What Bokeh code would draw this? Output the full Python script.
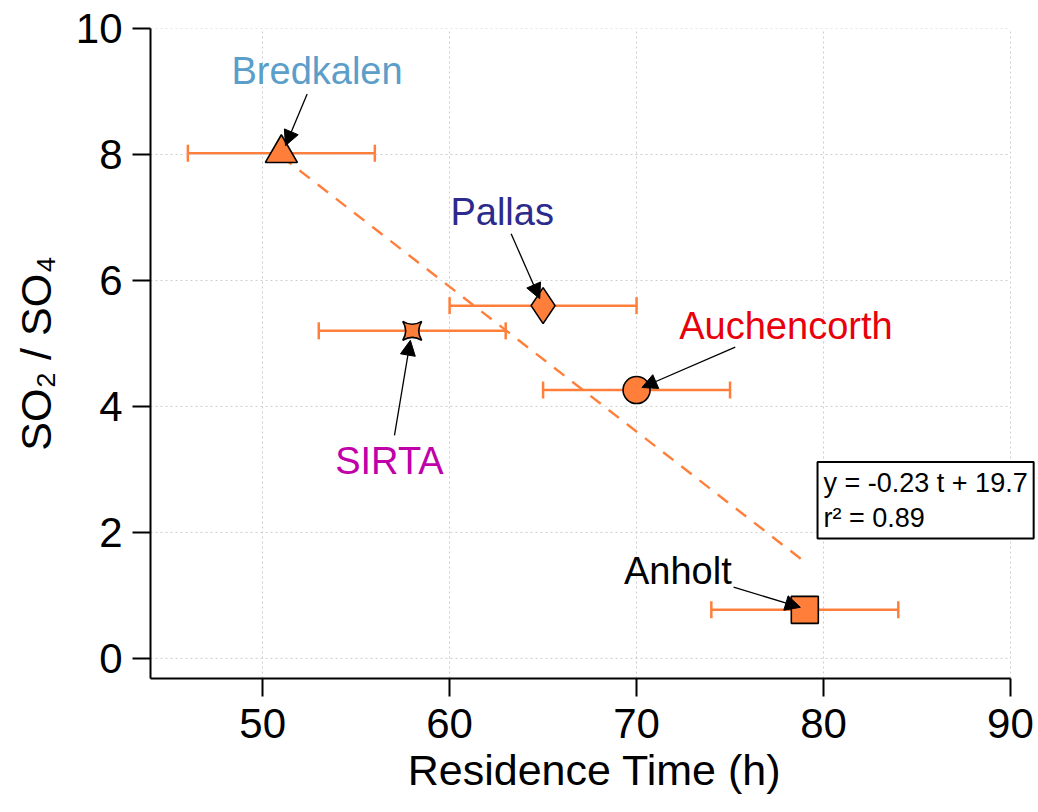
from bokeh.plotting import figure
from bokeh.models import Range1d, FixedTicker, Whisker, ColumnDataSource, Arrow, NormalHead, Label
from bokeh.embed import file_html
from bokeh.resources import INLINE

# ---- data ----
sites = ["Bredkalen", "Pallas", "SIRTA", "Auchencorth", "Anholt"]
res_time = [51, 65, 58, 70, 79]
ratio = [8.02, 5.60, 5.20, 4.26, 0.77]
res_err = [5, 5, 5, 5, 5]
markers = ["triangle", "diamond", "square_pin", "circle", "square"]
marker_sizes = [32, 36, 19, 27, 27]
label_colors = ["#5b9ec9", "#2c2a8c", "#c000a8", "#e8000b", "#000000"]
label_x = [52.91, 62.81, 56.78, 77.99, 72.21]
label_y = [9.33, 7.08, 3.14, 5.28, 1.39]
arrow_tail_x = [52.38, 63.29, 57.05, 75.28, 75.19]
arrow_tail_y = [8.96, 6.74, 3.54, 4.94, 1.13]
arrow_head_x = [51.22, 64.82, 57.90, 70.29, 78.76]
arrow_head_y = [8.14, 5.71, 5.05, 4.30, 0.81]
fit_slope = -0.23
fit_intercept = 19.7
fit_t = [51, 79]
fit_text = "y = -0.23 t + 19.7\nr\u00b2 = 0.89"
x_ticks = [50, 60, 70, 80, 90]
y_ticks = [0, 2, 4, 6, 8, 10]
x_min, x_max, x_view_max = 44, 90, 91.5
y_min, y_max = -0.32, 10

ORANGE = "#ff7f3a"
FONT = "Liberation Sans"
GRID = "#cccccc"

p = figure(width=1038, height=812, output_backend="svg", toolbar_location=None,
           x_range=Range1d(x_min, x_view_max), y_range=Range1d(y_min, y_max))
p.min_border_left = 150
p.min_border_right = 0
p.min_border_top = 28
p.min_border_bottom = 134
p.outline_line_color = None
p.background_fill_color = "white"
p.border_fill_color = "white"

for ax in (p.xaxis[0], p.yaxis[0]):
    ax.axis_line_width = 2
    ax.axis_line_color = "black"
    ax.major_tick_line_width = 2
    ax.major_tick_line_color = "black"
    ax.major_tick_out = 18
    ax.major_tick_in = 0
    ax.minor_tick_line_color = None
    ax.major_label_text_font = FONT
    ax.major_label_text_font_size = "42px"
    ax.major_label_text_color = "black"
    ax.axis_label_text_font = FONT
    ax.axis_label_text_font_size = "43px"
    ax.axis_label_text_font_style = "normal"
    ax.axis_label_text_color = "black"

p.xaxis.ticker = FixedTicker(ticks=x_ticks)
p.yaxis.ticker = FixedTicker(ticks=y_ticks)
p.xaxis.bounds = (x_min, x_max)
p.xaxis.axis_label = "Residence Time (h)"
p.yaxis.axis_label = "SO\u2082 / SO\u2084"
p.xaxis.major_label_standoff = 12
p.xaxis.axis_label_standoff = 5
p.yaxis.major_label_standoff = 10
p.yaxis.axis_label_standoff = 13

p.xgrid.grid_line_color = GRID
p.xgrid.grid_line_dash = "2 3"
p.xgrid.grid_line_width = 1
p.ygrid.grid_line_color = None
# horizontal grid lines limited to the axis extent (44..90)
p.segment(x0=[x_min] * len(y_ticks), x1=[x_max] * len(y_ticks), y0=y_ticks, y1=y_ticks,
          line_color=GRID, line_dash="2 3", line_width=1)

# error bars
src = ColumnDataSource(dict(
    x=res_time, y=ratio,
    lo=[t - e for t, e in zip(res_time, res_err)],
    hi=[t + e for t, e in zip(res_time, res_err)],
    marker=markers, size=marker_sizes,
))
wh = Whisker(source=src, base="y", lower="lo", upper="hi", dimension="width",
             line_color=ORANGE, line_width=2.5, level="underlay")
for h in (wh.upper_head, wh.lower_head):
    h.size = 17
    h.line_color = ORANGE
    h.line_width = 2.5
p.add_layout(wh)

# fit line (from chart's stated regression)
fit_y = [fit_slope * t + fit_intercept for t in fit_t]
p.line(fit_t, fit_y, line_color=ORANGE, line_width=2.4, line_dash="13 10")

p.scatter("x", "y", source=src, marker="marker", size="size",
          fill_color=ORANGE, line_color="black", line_width=1.6)

# arrows and labels
for i in range(len(sites)):
    p.add_layout(Arrow(end=NormalHead(size=15, fill_color="black", line_color="black", line_width=1),
                       x_start=arrow_tail_x[i], y_start=arrow_tail_y[i],
                       x_end=arrow_head_x[i], y_end=arrow_head_y[i],
                       line_color="black", line_width=1.3))
    p.add_layout(Label(x=label_x[i], y=label_y[i], text=sites[i],
                       text_align="center", text_baseline="alphabetic",
                       text_font=FONT, text_font_size="38px",
                       text_color=label_colors[i]))

p.add_layout(Label(x=79.68, y=3.116, text=fit_text, text_align="left", text_baseline="top",
                   text_font=FONT, text_font_size="27px", text_color="black",
                   text_line_height=1.15,
                   background_fill_color="white", border_line_color="black",
                   border_line_width=2, padding=6))

open("out.html", "w").write(file_html(p, INLINE))
